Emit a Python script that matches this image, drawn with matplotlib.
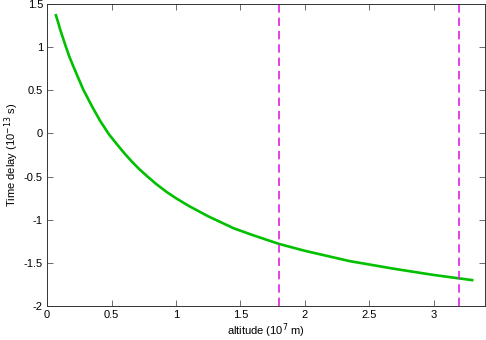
import matplotlib
matplotlib.use("Agg")
import matplotlib.pyplot as plt

# Data
altitude = [0.068, 0.085, 0.1, 0.12, 0.14, 0.17, 0.2, 0.24, 0.28, 0.35, 0.41, 0.48,
            0.55, 0.6, 0.66, 0.72, 0.78, 0.85, 0.93, 1.0, 1.1, 1.25, 1.45, 1.6,
            1.8, 2.0, 2.35, 2.7, 3.0, 3.2, 3.3]
delay = [1.37, 1.29, 1.21, 1.12, 1.03, 0.90, 0.79, 0.65, 0.51, 0.31, 0.15, -0.01,
         -0.14, -0.23, -0.33, -0.42, -0.50, -0.59, -0.68, -0.75, -0.84, -0.96, -1.10, -1.18,
         -1.28, -1.36, -1.48, -1.57, -1.64, -1.68, -1.70]
markers = [1.8, 3.2]

plt.rcParams["font.family"] = ["Liberation Sans", "DejaVu Sans"]
plt.rcParams["axes.unicode_minus"] = False

fig = plt.figure(figsize=(4.86, 3.4), dpi=100)
ax = fig.add_axes([0.097, 0.1, 0.901, 0.888])

ax.plot(altitude, delay, color="#00c000", linewidth=1.9)
for m in markers:
    ax.axvline(m, color="#e020e0", linewidth=1.2, linestyle=(0, (5, 3)))

ax.set_xlim(0, 3.4)
ax.set_ylim(-2, 1.5)
ax.set_xticks([0, 0.5, 1, 1.5, 2, 2.5, 3])
ax.set_xticklabels(["0", "0.5", "1", "1.5", "2", "2.5", "3"])
ax.set_yticks([-2, -1.5, -1, -0.5, 0, 0.5, 1, 1.5])
ax.set_yticklabels(["-2", "-1.5", "-1", "-0.5", "0", "0.5", "1", "1.5"])
ax.tick_params(direction="in", top=True, right=True, length=4, width=0.6,
               color="#555555", labelsize=8, pad=3)
for s in ax.spines.values():
    s.set_linewidth(0.7)
    s.set_color("#333333")

ax.set_xlabel("altitude (10$^7$ m)", fontsize=8, labelpad=1)
ax.set_ylabel("Time delay (10$^{-13}$ s)", fontsize=8, labelpad=2)

fig.savefig("out.png", dpi=100)
